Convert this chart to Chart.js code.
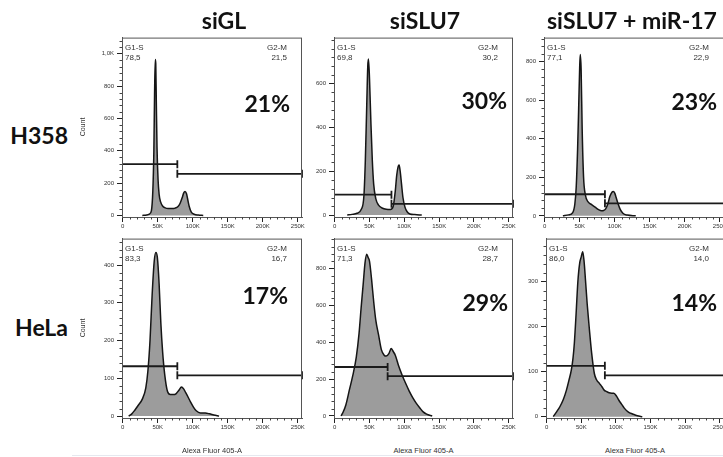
<!DOCTYPE html>
<html>
<head>
<meta charset="utf-8">
<script src="https://cdn.jsdelivr.net/npm/chart.js@4.4.1/dist/chart.umd.min.js"></script>
<style>
  html, body { margin: 0; padding: 0; background: #fff; overflow: hidden; width: 723px; height: 457px; }
  #wrap { position: relative; width: 723px; height: 457px; }
  .panel { position: absolute; }
  .panel canvas { position: absolute; left: 0; top: 0; }
  .title { position: absolute; font: 700 23px Lato, sans-serif; line-height: 23px; color: #111; white-space: nowrap; }
  .gate { position: absolute; font: 8px "Liberation Sans", Arial, sans-serif; line-height: 10px; color: #333; white-space: nowrap; }
  .pct { position: absolute; width: 100px; text-align: right; font: 700 23px Lato, sans-serif; line-height: 23px; color: #111; }
  .count { position: absolute; font: 7px "Liberation Sans", Arial, sans-serif; line-height: 8px; color: #333; transform: rotate(-90deg); transform-origin: center; white-space: nowrap; }
  .xtitle { position: absolute; width: 180px; text-align: center; font: 7.5px "Liberation Sans", Arial, sans-serif; line-height: 9px; color: #333; -webkit-font-smoothing: antialiased; }
  #rule { position: absolute; left: 72px; right: 0; top: 455px; height: 1px; background: #e6e8ef; }
</style>
</head>
<body>
<div id="wrap"><div id="rule"></div></div>
<script>
// --- data (x in K units of Alexa Fluor 405-A, y = count) ---
const colNames = ['siGL', 'siSLU7', 'siSLU7 + miR-17'];
const rowNames = ['H358', 'HeLa'];

const xTicks = [0, 50, 100, 150, 200, 250];
const xTickLabels = ['0', '50K', '100K', '150K', '200K', '250K'];

const h358SiglX = [28, 34, 38, 41, 43, 44.5, 45.5, 46.5, 47.2, 48, 49, 50.5, 52, 54, 57, 60, 65, 70, 75, 79, 82, 85, 87, 89, 91, 93, 95, 98, 102, 108, 115];
const h358SiglY = [0, 2, 8, 30, 150, 400, 750, 965, 940, 700, 420, 220, 130, 85, 58, 48, 42, 42, 45, 55, 75, 110, 138, 148, 135, 95, 55, 20, 7, 2, 0];

const h358SiSluX = [18, 25, 32, 38, 42, 44, 46, 47.5, 48.5, 50, 52, 54, 56, 59, 63, 68, 74, 80, 84, 87, 89, 91, 92.5, 94, 96, 98, 101, 104, 108, 115, 125];
const h358SiSluY = [0, 3, 8, 25, 90, 250, 500, 680, 712, 620, 420, 250, 140, 75, 45, 32, 26, 25, 40, 110, 180, 220, 228, 200, 140, 80, 35, 15, 5, 2, 0];

const h358MirX = [26, 34, 40, 43, 45, 47, 48.5, 50, 50.8, 52, 53.5, 55.5, 58, 62, 67, 72, 77, 81, 84, 87, 90, 93, 96, 98, 100, 102, 105, 108, 112, 118, 130];
const h358MirY = [0, 5, 17, 60, 150, 350, 560, 780, 837, 760, 450, 200, 110, 72, 58, 45, 32, 26, 28, 36, 60, 100, 122, 126, 118, 95, 60, 32, 12, 4, 0];

const helaSiglX = [8.5, 13, 17, 22, 28, 33, 36, 39, 42, 45, 47.4, 49.5, 52, 54.5, 57, 60, 64, 68, 72, 76, 80, 84, 87, 90, 94, 97, 101, 105, 111, 118, 124, 130, 137.6];
const helaSiglY = [0, 6, 15, 28, 45, 75, 120, 200, 320, 410, 433, 420, 350, 245, 170, 110, 65, 57, 57, 59, 68, 77, 72, 62, 48, 37, 24, 14, 8, 8, 6, 3, 0];

const helaSiSluX = [9, 12, 16, 21, 26, 31, 35, 38, 41, 43.5, 46, 48, 50, 53, 56, 59, 63, 67, 71, 74, 78, 81, 84, 87, 92, 97, 102, 107, 112, 117, 122, 127, 132, 140];
const helaSiSluY = [0, 20, 60, 140, 220, 320, 450, 590, 720, 830, 878, 860, 840, 740, 620, 520, 440, 360, 330, 325, 340, 366, 350, 330, 270, 220, 176, 135, 100, 70, 45, 22, 10, 0];

const helaMirX = [9.5, 14, 19, 24, 28.5, 32, 35.6, 38, 40, 42.5, 45, 47.5, 50, 52, 54, 56, 58.5, 61.7, 65, 68.8, 72, 76, 80, 83, 86, 90, 94, 97, 101, 104, 108, 112, 118, 124, 131, 138];
const helaMirY = [0, 10, 22, 38, 59, 80, 104, 130, 165, 230, 300, 340, 356, 367, 345, 304, 250, 193, 140, 96, 82, 74, 66, 59, 56, 53, 52, 52, 45, 37, 28, 19, 10, 6, 2, 0];

const yTickValues = [[0, 200, 400, 600, 800, 1000], [0, 200, 400, 600], [0, 200, 400, 600, 800], [0, 100, 200, 300, 400], [0, 200, 400, 600, 800], [0, 100, 200, 300]];
const yTickLabels = [['0', '200', '400', '600', '800', '1,0K'], ['0', '200', '400', '600'], ['0', '200', '400', '600', '800'], ['0', '100', '200', '300', '400'], ['0', '200', '400', '600', '800'], ['0', '100', '200', '300']];
const yMinorStep = [40, 40, 40, 20, 40, 20];
const yAxisMin = [-10, -9, -6, -5, -11, -3];
const yAxisMax = [1100, 810, 925, 470, 963, 396];

const g1GateEnd = [78, 81.5, 86, 78, 76, 84];
const g1GateLevel = [317, 93, 112, 132, 266, 113];
const g2GateLevel = [257, 51, 65, 108, 216, 92];
const g1Percent = ['78,5', '69,8', '77,1', '83,3', '71,3', '86,0'];
const g2Percent = ['21,5', '30,2', '22,9', '16,7', '28,7', '14,0'];
const bigPercent = ['21%', '30%', '23%', '17%', '29%', '14%'];

const seriesX = [h358SiglX, h358SiSluX, h358MirX, helaSiglX, helaSiSluX, helaMirX];
const seriesY = [h358SiglY, h358SiSluY, h358MirY, helaSiglY, helaSiSluY, helaMirY];

// --- layout ---
const X_MIN = -1, X_MAX = 256;
const panelBoxes = [
  { left: 122, top: 37, w: 180, h: 180, pctRight: 12, pctBase: 75 },
  { left: 334, top: 37, w: 179, h: 180, pctRight: 6, pctBase: 72 },
  { left: 544, top: 37, w: 180, h: 180, pctRight: 7, pctBase: 73 },
  { left: 122, top: 238, w: 180, h: 180, pctRight: 14, pctBase: 66 },
  { left: 334, top: 238, w: 179, h: 180, pctRight: 5, pctBase: 73 },
  { left: 546, top: 238, w: 178, h: 180, pctRight: 7, pctBase: 73 }
];
const wrap = document.getElementById('wrap');

function addText(cls, text, css) {
  const d = document.createElement('div');
  d.className = cls;
  d.textContent = text;
  Object.assign(d.style, css);
  wrap.appendChild(d);
  return d;
}

// frame box + minor ticks
const framePlugin = {
  id: 'frame',
  afterDraw(chart, args, opts) {
    const { ctx, chartArea: a, scales } = chart;
    ctx.save();
    ctx.strokeStyle = '#555';
    ctx.lineWidth = 1;
    ctx.strokeRect(a.left + 0.5, a.top + 0.5, a.right - a.left - 1, a.bottom - a.top);
    ctx.strokeStyle = '#444';
    ctx.beginPath();
    for (let v = 10; v < X_MAX; v += 10) {
      if (v % 50 === 0) continue;
      const px = Math.round(scales.x.getPixelForValue(v)) + 0.5;
      ctx.moveTo(px, a.bottom);
      ctx.lineTo(px, a.bottom + 2.5);
    }
    for (let v = opts.step; v < scales.y.max; v += opts.step) {
      if (opts.major.includes(v)) continue;
      const py = Math.round(scales.y.getPixelForValue(v)) + 0.5;
      ctx.moveTo(a.left, py);
      ctx.lineTo(a.left - 2.5, py);
    }
    ctx.stroke();
    ctx.restore();
  }
};

function makePanel(i) {
  const box = panelBoxes[i];
  const padL = 40, padT = 6, padR = 12, axisH = 22;
  const cw = box.w + padL + padR, ch = box.h + padT + axisH;
  const div = document.createElement('div');
  div.className = 'panel';
  Object.assign(div.style, { left: (box.left - padL) + 'px', top: (box.top - padT) + 'px', width: cw + 'px', height: ch + 'px' });
  const canvas = document.createElement('canvas');
  canvas.width = cw; canvas.height = ch;
  div.appendChild(canvas);
  wrap.appendChild(div);

  const xs = seriesX[i], ys = seriesY[i];
  const tickFont = { size: 6, family: '"Liberation Sans", Arial, sans-serif' };
  const gateStyle = {
    borderColor: '#1a1a1a', borderWidth: 1.8, pointStyle: 'line', pointRotation: 90,
    pointBorderColor: '#1a1a1a', pointBorderWidth: 1.8, fill: false, clip: 6
  };

  new Chart(canvas, {
    type: 'line',
    data: {
      datasets: [
        Object.assign({ data: [{ x: X_MIN, y: g1GateLevel[i] }, { x: g1GateEnd[i], y: g1GateLevel[i] }], pointRadius: [0, 4] }, gateStyle),
        Object.assign({ data: [{ x: g1GateEnd[i], y: g2GateLevel[i] }, { x: X_MAX, y: g2GateLevel[i] }], pointRadius: 4 }, gateStyle),
        {
          data: xs.map((x, k) => ({ x: x, y: ys[k] })),
          borderColor: '#151515', borderWidth: 1.5, backgroundColor: '#9c9c9c',
          fill: 'origin', pointRadius: 0, cubicInterpolationMode: 'monotone'
        }
      ]
    },
    options: {
      responsive: false,
      animation: false,
      devicePixelRatio: 1,
      layout: { padding: { left: 0, top: padT, right: padR, bottom: 0 } },
      plugins: {
        legend: { display: false },
        tooltip: { enabled: false },
        frame: { step: yMinorStep[i], major: yTickValues[i] }
      },
      scales: {
        x: {
          type: 'linear', min: X_MIN, max: X_MAX,
          afterBuildTicks: s => { s.ticks = xTicks.map(v => ({ value: v })); },
          afterFit: s => { s.height = axisH; },
          ticks: { callback: (v, idx) => xTickLabels[idx], font: tickFont, color: '#333', padding: 1, maxRotation: 0, autoSkip: false },
          grid: { drawOnChartArea: false, tickLength: 5, tickColor: '#222' },
          border: { color: '#555' }
        },
        y: {
          type: 'linear', min: yAxisMin[i], max: yAxisMax[i],
          afterBuildTicks: s => { s.ticks = yTickValues[i].map(v => ({ value: v })); },
          afterFit: s => { s.width = padL; },
          ticks: { callback: (v, idx) => yTickLabels[i][idx], font: tickFont, color: '#333', padding: 3, autoSkip: false },
          grid: { drawOnChartArea: false, tickLength: 5, tickColor: '#222' },
          border: { color: '#555' }
        }
      }
    },
    plugins: [framePlugin]
  });

  // gate labels
  addText('gate', 'G1-S\n' + g1Percent[i], { left: (box.left + 3) + 'px', top: (box.top + 6) + 'px', whiteSpace: 'pre' });
  addText('gate', 'G2-M\n' + g2Percent[i], { left: (box.left + box.w - 15 - 60) + 'px', width: '60px', textAlign: 'right', top: (box.top + 6) + 'px', whiteSpace: 'pre' });
  addText('pct', bigPercent[i], { left: (box.left + box.w - box.pctRight - 100) + 'px', top: (box.top + box.pctBase - 20.4) + 'px' });
}

for (let i = 0; i < 6; i++) makePanel(i);

// column / row titles
addText('title', colNames[0], { left: '174px', width: '100px', textAlign: 'center', top: '9px' });
addText('title', colNames[1], { left: '375px', width: '100px', textAlign: 'center', top: '9px' });
addText('title', colNames[2], { left: '547px', top: '9px' });
addText('title', rowNames[0], { left: '0px', width: '68px', textAlign: 'right', top: '124px' });
addText('title', rowNames[1], { left: '0px', width: '68px', textAlign: 'right', top: '316px' });

// axis titles
[panelBoxes[0], panelBoxes[3]].forEach(b => {
  addText('count', 'Count', { left: '70px', width: '25px', textAlign: 'center', top: (b.top + b.h / 2 - 4) + 'px' });
});
[panelBoxes[3], panelBoxes[4], panelBoxes[5]].forEach(b => {
  addText('xtitle', 'Alexa Fluor 405-A', { left: b.left + 'px', width: b.w + 'px', top: '446px' });
});
</script>
</body>
</html>
